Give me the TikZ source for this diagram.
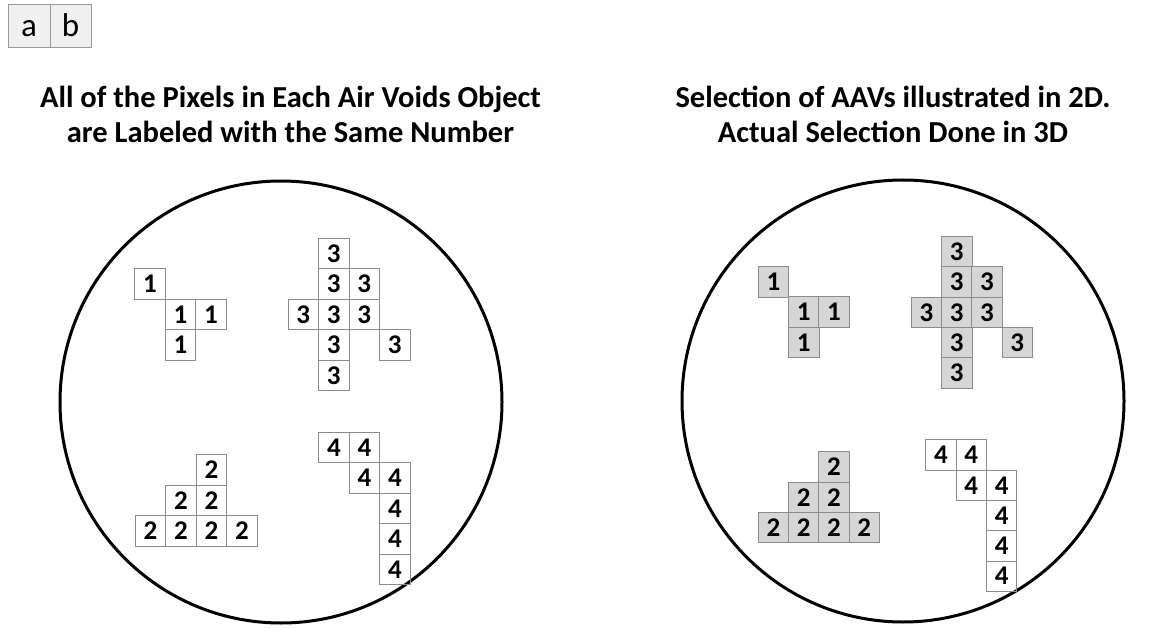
\documentclass[tikz,border=0pt]{standalone}
\usepackage{fontspec}
\setmainfont{Carlito}
\usepackage{tikz}

\begin{document}
\begin{tikzpicture}[
  x=1pt, y=-1pt,
  title/.style={align=center, font=\bfseries\fontsize{30.5}{35}\selectfont, inner sep=0pt},
  tab/.style={draw=black!40, fill=black!6, minimum width=41.5pt, minimum height=43.5pt, inner sep=0pt, anchor=north west, text height=22pt, text depth=1pt, font=\fontsize{33}{33}\selectfont},
  disc/.style={draw, circle, line width=3pt, minimum size=442pt, inner sep=0pt},
  pix/.style={draw=black!45, line width=0.9pt, minimum size=30.5pt, inner sep=0pt, anchor=north west, font=\bfseries\fontsize{27}{27}\selectfont},
  sel/.style={pix, fill=black!16},
]
\useasboundingbox (0,0) rectangle (1153,628);

% ---------------- panel tabs ----------------
\node[tab] (taba) at (8,4) {a};
\node[tab] (tabb) at (49.5,4) {b};

% ---------------- titles ----------------
\node[title] (ttla) at (290.5,114) {All of the Pixels in Each Air Voids Object\\are Labeled with the Same Number};
\node[title] (ttlb) at (893,114) {Selection of AAVs illustrated in 2D.\\Actual Selection Done in 3D};

% ---------------- cross sections ----------------
\node[disc] (dska) at (281,402) {};
\node[disc] (dskb) at (903,401) {};

% cluster origins (top left of the first pixel)
\coordinate (a1) at (134.3,268.3);
\coordinate (a2) at (195.7,454);
\coordinate (a3) at (318,237.7);
\coordinate (a4) at (318.3,431.7);
\coordinate (b1) at (757.7,266);
\coordinate (b2) at (818.3,451.3);
\coordinate (b3) at (941,236);
\coordinate (b4) at (925.3,439.3);

% ---------------- panel a: labelled objects ----------------
\foreach \c/\r [count=\i] in {0/0,1/1,2/1,1/2}
  \node[pix] (pa1-\i) at ([shift={(\c*30.5,\r*30.5)}]a1) {1};
\foreach \c/\r [count=\i] in {0/0,-1/1,0/1,-2/2,-1/2,0/2,1/2}
  \node[pix] (pa2-\i) at ([shift={(\c*30.5,\r*30.5)}]a2) {2};
\foreach \c/\r [count=\i] in {0/0,0/1,1/1,-1/2,0/2,1/2,0/3,2/3,0/4}
  \node[pix] (pa3-\i) at ([shift={(\c*30.5,\r*30.5)}]a3) {3};
\foreach \c/\r [count=\i] in {0/0,1/0,1/1,2/1,2/2,2/3,2/4}
  \node[pix] (pa4-\i) at ([shift={(\c*30.5,\r*30.5)}]a4) {4};

% ---------------- panel b: selected objects shaded ----------------
\foreach \c/\r [count=\i] in {0/0,1/1,2/1,1/2}
  \node[sel] (pb1-\i) at ([shift={(\c*30.3,\r*30.3)}]b1) {1};
\foreach \c/\r [count=\i] in {0/0,-1/1,0/1,-2/2,-1/2,0/2,1/2}
  \node[sel] (pb2-\i) at ([shift={(\c*30.3,\r*30.3)}]b2) {2};
\foreach \c/\r [count=\i] in {0/0,0/1,1/1,-1/2,0/2,1/2,0/3,2/3,0/4}
  \node[sel] (pb3-\i) at ([shift={(\c*30.3,\r*30.3)}]b3) {3};
\foreach \c/\r [count=\i] in {0/0,1/0,1/1,2/1,2/2,2/3,2/4}
  \node[pix] (pb4-\i) at ([shift={(\c*30.3,\r*30.3)}]b4) {4};
\end{tikzpicture}
\end{document}
